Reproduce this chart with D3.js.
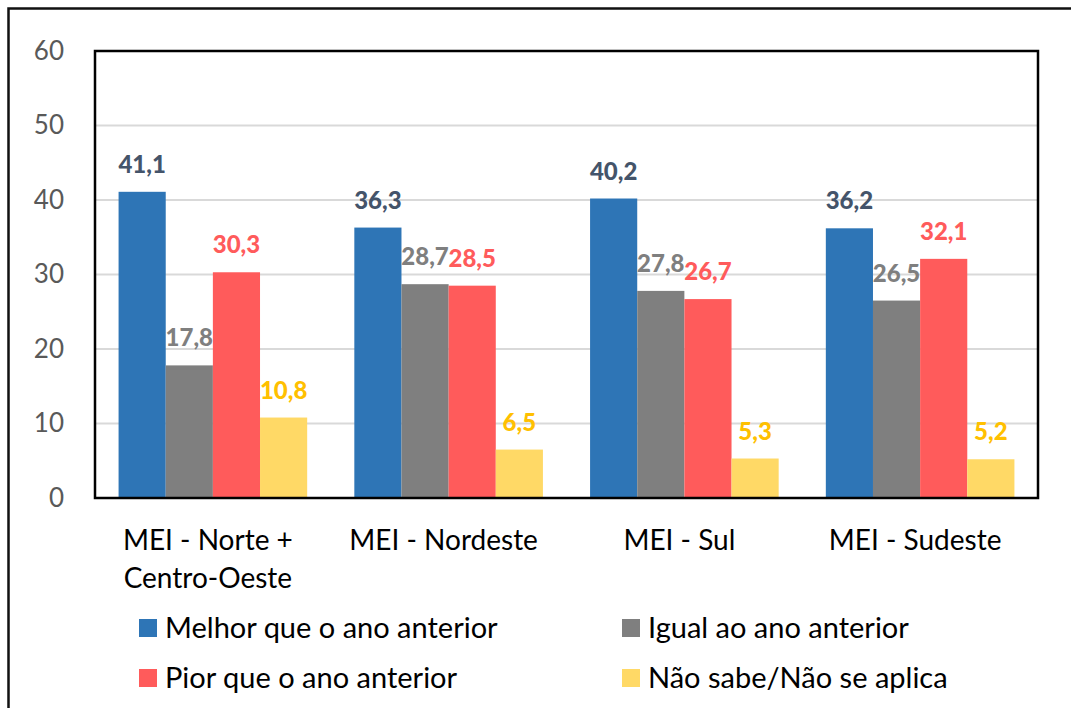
<!DOCTYPE html>
<html>
<head>
<meta charset="utf-8">
<script src="https://cdn.jsdelivr.net/npm/d3@7"></script>
<style>
  body { margin: 0; background: #fff; }
  svg { display: block; font-family: Lato, "Open Sans", sans-serif; }
</style>
</head>
<body>
<div id="chart"></div>
<script>
// chart data
var categories = [["MEI - Norte +", "Centro-Oeste"], ["MEI - Nordeste"], ["MEI - Sul"], ["MEI - Sudeste"]];
var seriesNames = ["Melhor que o ano anterior", "Igual ao ano anterior", "Pior que o ano anterior", "Não sabe/Não se aplica"];
var melhor = [41.1, 36.3, 40.2, 36.2];
var igual = [17.8, 28.7, 27.8, 26.5];
var pior = [30.3, 28.5, 26.7, 32.1];
var naoSabe = [10.8, 6.5, 5.3, 5.2];
var yTicks = [0, 10, 20, 30, 40, 50, 60];

var barColors = ["#2E75B6", "#7F7F7F", "#FF5B5B", "#FFD966"];
var labelColors = ["#44546A", "#7F7F7F", "#FF5B5B", "#FFC000"];

var width = 1071;
var height = 708;
var plot = { left: 95, top: 51, right: 1038, bottom: 498 };

var svg = d3.select("#chart")
    .append("svg")
    .attr("width", width)
    .attr("height", height);

// outer frame (cut off at right and bottom)
svg.append("rect")
    .attr("x", 8.5).attr("y", 8.5)
    .attr("width", width + 20).attr("height", height + 20)
    .attr("fill", "none")
    .attr("stroke", "#111")
    .attr("stroke-width", 2.5);

var x0 = d3.scaleBand()
    .domain(d3.range(categories.length))
    .range([plot.left, plot.right])
    .paddingInner(0.2)
    .paddingOuter(0.1);

var x1 = d3.scaleBand()
    .domain(d3.range(seriesNames.length))
    .range([0, x0.bandwidth()]);

var y = d3.scaleLinear()
    .domain([0, 60])
    .range([plot.bottom, plot.top]);

// gridlines
svg.append("g")
    .selectAll("line")
    .data(yTicks.slice(1, -1))
    .enter()
    .append("line")
    .attr("x1", plot.left).attr("x2", plot.right)
    .attr("y1", function(d) { return y(d); })
    .attr("y2", function(d) { return y(d); })
    .attr("stroke", "#D9D9D9")
    .attr("stroke-width", 2);

// y axis labels
var yAxis = d3.axisLeft(y).tickValues(yTicks).tickSize(0).tickPadding(31);
var yG = svg.append("g")
    .attr("transform", "translate(" + plot.left + ",0)")
    .call(yAxis);
yG.select(".domain").remove();
yG.selectAll("text")
    .attr("fill", "#595959")
    .style("font-size", "26px")
    .style("font-family", "Lato, sans-serif");

// bars
var allSeries = [melhor, igual, pior, naoSabe];
var rows = [];
allSeries.forEach(function(vals, s) {
    vals.forEach(function(v, c) { rows.push({ s: s, c: c, v: v }); });
});

svg.append("g")
    .selectAll("rect")
    .data(rows)
    .enter()
    .append("rect")
    .attr("x", function(d) { return x0(d.c) + x1(d.s); })
    .attr("y", function(d) { return y(d.v); })
    .attr("width", x1.bandwidth())
    .attr("height", function(d) { return y(0) - y(d.v); })
    .attr("fill", function(d) { return barColors[d.s]; });

// value labels
svg.append("g")
    .selectAll("text")
    .data(rows)
    .enter()
    .append("text")
    .attr("x", function(d) { return x0(d.c) + x1(d.s) + x1.bandwidth() / 2; })
    .attr("y", function(d) { return y(d.v) - 19; })
    .attr("text-anchor", "middle")
    .attr("fill", function(d) { return labelColors[d.s]; })
    .style("font-weight", "900")
    .style("font-size", "24px")
    .text(function(d) { return String(d.v).replace(".", ","); });

// plot frame
svg.append("rect")
    .attr("x", plot.left).attr("y", plot.top)
    .attr("width", plot.right - plot.left)
    .attr("height", plot.bottom - plot.top)
    .attr("fill", "none")
    .attr("stroke", "#000")
    .attr("stroke-width", 2.5);

// category labels
var catG = svg.append("g")
    .selectAll("text")
    .data(categories)
    .enter()
    .append("text")
    .attr("x", function(d, i) { return x0(i) + x0.bandwidth() / 2 - 5; })
    .attr("y", 550)
    .attr("text-anchor", "middle")
    .attr("fill", "#000")
    .style("font-size", "28px");
catG.selectAll("tspan")
    .data(function(d) { return d; })
    .enter()
    .append("tspan")
    .attr("x", function() { return d3.select(this.parentNode).attr("x"); })
    .attr("dy", function(d, i) { return i === 0 ? 0 : 38; })
    .text(function(d) { return d; });

// legend
var legendPos = [[139, 619], [622, 619], [139, 669], [622, 669]];
var legend = svg.append("g")
    .selectAll("g")
    .data(seriesNames)
    .enter()
    .append("g")
    .attr("transform", function(d, i) { return "translate(" + legendPos[i][0] + "," + legendPos[i][1] + ")"; });
legend.append("rect")
    .attr("width", 18).attr("height", 18)
    .attr("fill", function(d, i) { return barColors[i]; });
legend.append("text")
    .attr("x", 26).attr("y", 19)
    .attr("fill", "#000")
    .style("font-size", "29px")
    .text(function(d) { return d; });
</script>
</body>
</html>
